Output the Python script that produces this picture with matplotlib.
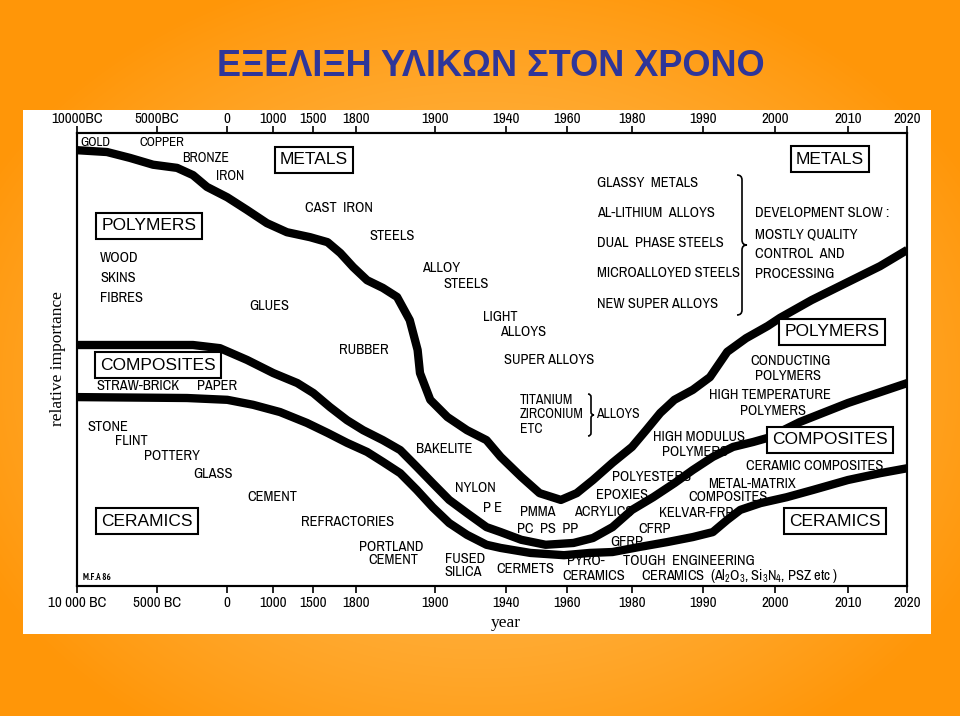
import numpy as np
import matplotlib
matplotlib.use("Agg")
import matplotlib.pyplot as plt
from matplotlib import font_manager
from matplotlib.font_manager import FontProperties
from matplotlib.path import Path
from matplotlib.patches import PathPatch, Rectangle
from matplotlib.ticker import NullLocator

TITLE = "ΕΞΕΛΙΞΗ ΥΛΙΚΩΝ ΣΤΟΝ ΧΡΟΝΟ"

# years on the time axis (BC as negative) and their labels
TICK_YEARS = [-10000, -5000, 0, 1000, 1500, 1800, 1900, 1940, 1960, 1980, 1990, 2000, 2010, 2020]
TOP_LABELS = ["10000BC", "5000BC", "0", "1000", "1500", "1800", "1900",
              "1940", "1960", "1980", "1990", "2000", "2010", "2020"]
BOTTOM_LABELS = ["10 000 BC", "5000 BC", "0", "1000", "1500", "1800", "1900",
                 "1940", "1960", "1980", "1990", "2000", "2010", "2020"]

# boundary metals / polymers
METAL_POLY_YEARS = [-10000, -8130, -6680, -5230, -3560, -2430, -1440, 0, 430, 860, 1170, 1460,
                    1600, 1690, 1780, 1814, 1834, 1852, 1868, 1878, 1881, 1894, 1907, 1918,
                    1929, 1937, 1945, 1951, 1958, 1963, 1968, 1974, 1980, 1982, 1984, 1986,
                    1988.6, 1991, 1993.4, 1996, 1999, 2000.7, 2005, 2010, 2015.4, 2020]
METAL_POLY = [96.2, 95.8, 94.5, 93.0, 92.3, 90.7, 88.1, 85.8, 83.0, 80.1, 78.1, 77.0,
              75.9, 73.5, 70.4, 67.5, 65.8, 63.8, 58.7, 52.1, 47.0, 41.1, 37.3, 34.4,
              32.2, 28.5, 24.1, 20.5, 19.0, 20.5, 23.4, 27.2, 30.7, 34.4, 38.2, 41.1,
              43.3, 46.1, 51.7, 54.7, 57.4, 59.2, 63.1, 67.1, 70.6, 74.2]

# boundary polymers / composites
POLY_COMP_YEARS = [-10000, -2430, -520, 430, 1000, 1300, 1500, 1617, 1737, 1809, 1834, 1856,
                   1877, 1897, 1908, 1918, 1929, 1937, 1945, 1953, 1962, 1968, 1974, 1980,
                   1983, 1986, 1988.6, 1991.4, 1994.2, 1997, 1999, 2003.4, 2010, 2020]
POLY_COMP = [53.2, 53.2, 52.5, 49.9, 47.0, 44.8, 42.6, 39.5, 36.6, 34.4, 32.2, 30.0,
             26.3, 22.7, 19.0, 16.1, 13.0, 11.9, 10.2, 9.1, 9.5, 10.6, 13.0, 16.8,
             19.6, 22.7, 25.6, 28.5, 30.7, 31.8, 32.7, 36.2, 40.4, 44.8]

# boundary composites / ceramics
COMP_CER_YEARS = [-10000, -2854, 0, 560, 1084, 1420, 1600, 1737, 1814, 1834, 1856, 1877,
                  1897, 1908, 1918, 1929, 1937, 1948, 1959, 1967, 1974, 1981, 1985, 1988.6,
                  1991.4, 1993.4, 1995.2, 1998, 2001.6, 2005.2, 2010, 2015.4, 2020]
COMP_CER = [41.7, 41.5, 41.1, 40.0, 38.4, 36.0, 33.8, 31.6, 29.6, 27.4, 24.9, 21.2,
            17.4, 13.9, 11.3, 9.1, 8.4, 7.3, 6.8, 7.3, 7.5, 8.6, 9.7, 10.8,
            11.9, 14.6, 16.8, 18.3, 19.6, 21.2, 23.4, 24.9, 26.0]

# stretched time axis: where each tick year sits (pixels from the left spine)
TICK_POS = [0, 79.4, 150, 196, 236, 278.7, 357.7, 428.7, 489.7, 554.7, 625.4, 697.7, 770.7, 830]


def fwd(x):
    return np.interp(x, TICK_YEARS, TICK_POS)


def inv(p):
    return np.interp(p, TICK_POS, TICK_YEARS)


def find_narrow(bold):
    # look for an installed narrow / condensed sans face, else plain Liberation Sans
    best = None
    for f in font_manager.fontManager.ttflist:
        nm = f.name.lower()
        if any(k in nm for k in ("mono", "serif", "cjk", "display")):
            continue
        if f.style != "normal":
            continue
        w = f.weight if isinstance(f.weight, int) else {"normal": 400, "regular": 400,
                                                        "bold": 700}.get(str(f.weight), 0)
        if (bold and w != 700) or (not bold and w != 400):
            continue
        st = str(f.stretch).lower()
        if "narrow" in nm or "condensed" in nm or st == "condensed":
            rank = 0 if "narrow" in nm else 1
        elif st == "semi-condensed":
            rank = 2
        else:
            continue
        if best is None or rank < best[0]:
            best = (rank, f.fname)
    if best:
        return FontProperties(fname=best[1])
    return FontProperties(family="Liberation Sans", weight="bold" if bold else "normal")


FP = find_narrow(False)
FP_BOLD = find_narrow(True)
FP_TITLE = FontProperties(family=["Liberation Sans", "DejaVu Sans"], weight="bold")
plt.rcParams["font.family"] = ["Liberation Sans", "DejaVu Sans"]
plt.rcParams["mathtext.default"] = "regular"

W, H = 960, 716
fig = plt.figure(figsize=(W / 100, H / 100), dpi=100)
renderer = fig.canvas.get_renderer()

# orange background with lighter centre and white panel
bg = fig.add_axes([0, 0, 1, 1], zorder=-2)
yy, xx = np.mgrid[0:H, 0:W]
t = np.clip(np.sqrt(((xx - 480) / 560) ** 2 + ((yy - 380) / 430) ** 2), 0, 1) ** 1.6
centre = np.array([255, 186, 82]) / 255
edge = np.array([255, 150, 8]) / 255
grad = centre + (edge - centre) * t[..., None]
bg.imshow(grad, extent=[0, W, H, 0], aspect="auto")
bg.add_patch(Rectangle((23, 110), 908, 524, facecolor="white", edgecolor="none"))
bg.set_xlim(0, W)
bg.set_ylim(H, 0)
bg.axis("off")

# overlay in pixel coordinates for the annotations
ov = fig.add_axes([0, 0, 1, 1], zorder=5)
ov.set_xlim(0, W)
ov.set_ylim(H, 0)
ov.axis("off")
ov.patch.set_alpha(0)


def width_of(s, fp, size):
    tt = ov.text(0, 0, s, fontproperties=fp, fontsize=size)
    w = tt.get_window_extent(renderer).width
    tt.remove()
    return w


# scale the annotation font so that its widths follow the scanned lettering
K = 143 / width_of("MICROALLOYED STEELS", FP, 10)
TICK_SIZE = 8.5 * 52 / width_of("10000BC", FP, 8.5)
TITLE_SIZE = 28 * 548 / width_of(TITLE, FP_TITLE, 28)

# main chart
ax = fig.add_axes([77.3 / W, 1 - 586 / H, 830 / W, 453 / H])
ax.set_facecolor("none")
ax.set_xscale("function", functions=(fwd, inv))
ax.set_xlim(-10000, 2020)
ax.set_ylim(0, 100)
for yrs, vals in [(METAL_POLY_YEARS, METAL_POLY), (POLY_COMP_YEARS, POLY_COMP),
                  (COMP_CER_YEARS, COMP_CER)]:
    ax.plot(yrs, vals, color="black", lw=6, solid_capstyle="butt", solid_joinstyle="round")

ax.set_yticks([])
ax.set_xticks(TICK_YEARS)
ax.set_xticklabels(BOTTOM_LABELS, fontproperties=FP, fontsize=TICK_SIZE)
ax.xaxis.set_minor_locator(NullLocator())
ax.tick_params(axis="x", direction="out", length=5, width=1.2, pad=2)
for sp in ax.spines.values():
    sp.set_linewidth(1.5)

top = ax.twiny()
top.set_xscale("function", functions=(fwd, inv))
top.set_xlim(ax.get_xlim())
top.set_xticks(TICK_YEARS)
top.set_xticklabels(TOP_LABELS, fontproperties=FP, fontsize=TICK_SIZE)
top.xaxis.set_minor_locator(NullLocator())
top.tick_params(axis="x", direction="out", length=5, width=1.2, pad=0)
for sp in top.spines.values():
    sp.set_linewidth(1.5)

ax.set_xlabel("year", family="Liberation Serif", fontsize=12.5)
ax.xaxis.set_label_coords((505 - 77) / 830, -(615 - 586) / 453)
ax.set_ylabel("relative importance", family="Liberation Serif", fontsize=12.5)
ax.yaxis.set_label_coords((66 - 77) / 830, (586 - 359) / 453)

ov.text(491, 66, TITLE, ha="center", va="center", fontproperties=FP_TITLE,
        fontsize=TITLE_SIZE, color="#2f3699")

notes = [
    ("GOLD", 80, 142, 9), ("COPPER", 139, 142, 9), ("BRONZE", 182, 158, 9.5),
    ("IRON", 216, 176, 9.5), ("CAST  IRON", 305, 208, 10), ("STEELS", 369, 236, 10),
    ("ALLOY", 422, 268, 10), ("STEELS", 443, 284, 10),
    ("WOOD", 100, 258, 10), ("SKINS", 100, 278, 10), ("FIBRES", 100, 298, 10),
    ("GLUES", 249, 306, 10), ("LIGHT", 483, 317, 10), ("ALLOYS", 500, 332, 10),
    ("RUBBER", 339, 350, 10), ("SUPER ALLOYS", 504, 360, 10),
    ("TITANIUM", 520, 400, 9.5), ("ZIRCONIUM", 520, 414, 9.5), ("ETC", 520, 429, 9.5),
    ("ALLOYS", 596, 414, 9.5),
    ("BAKELITE", 416, 449, 10), ("NYLON", 455, 488, 10), ("P E", 483, 508, 10),
    ("PMMA", 520, 512, 10), ("PC  PS  PP", 517, 529, 10), ("ACRYLICS", 574, 512, 10),
    ("EPOXIES", 596, 495, 10), ("POLYESTERS", 612, 477, 10),
    ("HIGH MODULUS", 653, 437, 10), ("POLYMERS", 662, 452, 10),
    ("CONDUCTING", 750, 361, 10), ("POLYMERS", 755, 376, 10),
    ("HIGH TEMPERATURE", 709, 395, 10), ("POLYMERS", 740, 411, 10),
    ("CERAMIC COMPOSITES", 746, 466, 10), ("METAL-MATRIX", 708, 484, 10),
    ("COMPOSITES", 688, 497, 10), ("KELVAR-FRP", 659, 513, 10), ("CFRP", 638, 529, 10),
    ("GFRP", 610, 542, 10), ("CERMETS", 496, 569, 10), ("PYRO-", 567, 561, 10),
    ("CERAMICS", 562, 576, 10), ("TOUGH  ENGINEERING", 623, 561, 10),
    ("CERAMICS  (Al$_2$O$_3$, Si$_3$N$_4$, PSZ etc )", 641, 576, 10),
    ("FUSED", 445, 559, 10), ("SILICA", 444, 572, 10),
    ("PORTLAND", 359, 547, 10), ("CEMENT", 368, 560, 10),
    ("REFRACTORIES", 301, 522, 10), ("CEMENT", 247, 497, 10), ("GLASS", 193, 474, 10),
    ("POTTERY", 144, 456, 10), ("FLINT", 115, 441, 10), ("STONE", 87, 427, 10),
    ("STRAW-BRICK", 96, 386, 10), ("PAPER", 197, 386, 10),
    ("GLASSY  METALS", 597, 183, 10), ("AL-LITHIUM  ALLOYS", 597, 213, 10),
    ("DUAL  PHASE STEELS", 597, 243, 10), ("MICROALLOYED STEELS", 597, 273, 10),
    ("NEW SUPER ALLOYS", 597, 304, 10),
    ("DEVELOPMENT SLOW :", 755, 213, 10), ("MOSTLY QUALITY", 755, 234, 10),
    ("CONTROL  AND", 755, 254, 10), ("PROCESSING", 755, 274, 10),
]
for txt, x, y, s in notes:
    ov.text(x, y, txt, ha="left", va="center", fontproperties=FP, fontsize=s * K,
            color="black")

ov.text(83, 578, "M.F.A 86", ha="left", va="center", fontproperties=FP_BOLD, fontsize=6.5)

boxes = [
    ("METALS", 314, 160), ("POLYMERS", 149, 226), ("COMPOSITES", 158, 365),
    ("CERAMICS", 147, 521), ("METALS", 830, 159), ("POLYMERS", 832, 332),
    ("COMPOSITES", 830, 440), ("CERAMICS", 835, 521),
]
for txt, x, y in boxes:
    ov.text(x, y, txt, ha="center", va="center", fontsize=12.5, family="Liberation Sans",
            bbox=dict(boxstyle="square,pad=0.3", facecolor="white", edgecolor="black", lw=1.5))


def brace(axo, x, y0, y1, w):
    ym = (y0 + y1) / 2
    verts = [(x - w, y0), (x, y0), (x, y0 + w), (x, ym - w), (x, ym), (x + w, ym),
             (x, ym), (x, ym + w), (x, y1 - w), (x, y1), (x - w, y1)]
    codes = [Path.MOVETO, Path.CURVE3, Path.CURVE3, Path.LINETO, Path.CURVE3, Path.CURVE3,
             Path.CURVE3, Path.CURVE3, Path.LINETO, Path.CURVE3, Path.CURVE3]
    axo.add_patch(PathPatch(Path(verts, codes), facecolor="none", edgecolor="black", lw=1.2))


brace(ov, 742, 175, 315, 5)
brace(ov, 591, 394, 436, 3)

fig.savefig("out.png", dpi=100)
